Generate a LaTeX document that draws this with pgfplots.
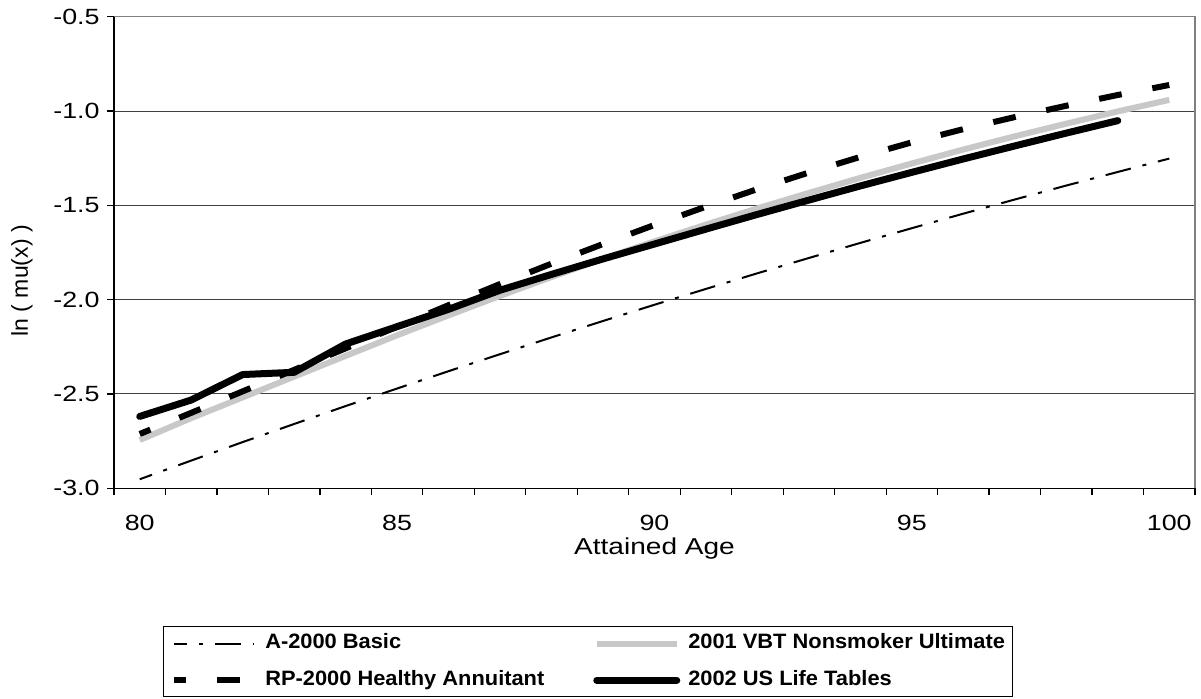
\documentclass[border=0pt]{standalone}
\usepackage{pgfplots}
\pgfplotsset{compat=1.18}
\usepackage{fontspec}
\setmainfont{Liberation Sans}
\newfontfamily\stretchfont[FakeStretch=1.22]{Liberation Sans}
\newfontfamily\legfont[FakeStretch=1.05]{Liberation Sans}
\definecolor{vbtgray}{RGB}{200,200,200}
\definecolor{gridgray}{RGB}{64,64,64}
\begin{document}
\begin{tikzpicture}
\useasboundingbox (0pt,0pt) rectangle (600.5pt,349pt);
\begin{axis}[
  at={(57pt,104.85pt)}, anchor=south west,
  scale only axis, width=540.5pt, height=235.8pt,
  xmin=79.5, xmax=100.5, ymin=-3, ymax=-0.5,
  axis x line*=bottom, axis y line*=left,
  axis line style={black, line width=0.75pt},
  tick align=outside, major tick length=3.5pt,
  tick style={black, line width=0.6pt},
  xtick={79.5,80.5,81.5,82.5,83.5,84.5,85.5,86.5,87.5,88.5,89.5,90.5,91.5,92.5,93.5,94.5,95.5,96.5,97.5,98.5,99.5,100.5},
  xticklabels={},
  extra x ticks={80,85,90,95,100},
  extra x tick labels={80,85,90,95,100},
  extra x tick style={major tick length=0pt, xticklabel style={inner sep=0pt, anchor=north, yshift=-13pt}},
  ytick={-3,-2.5,-2,-1.5,-1,-0.5},
  /pgf/number format/fixed,
  /pgf/number format/fixed zerofill,
  /pgf/number format/precision=1,
  /pgf/number format/assume math mode=true,
  yticklabel style={inner sep=0pt, anchor=east, xshift=-3.5pt},
  tick label style={font=\stretchfont\fontsize{11}{13}\selectfont},
  ymajorgrids, major grid style={gridgray, line width=0.5pt},
  xlabel={\stretchfont\fontsize{11.5}{13}\selectfont Attained Age},
  ylabel={\fontsize{11.5}{13}\selectfont ln ( mu(x) )},
  every axis x label/.style={at={(axis description cs:0.5,-0.1285)}, anchor=center},
  every axis y label/.style={at={(axis description cs:-0.0851,0.44)}, anchor=center, rotate=90},
  legend columns=2,
  legend cell align=left,
  legend style={at={(axis description cs:0.0453,-0.2926)}, anchor=north west,
    draw=black, line width=0.6pt, fill=white,
    font=\legfont\bfseries\fontsize{10.4}{12}\selectfont,
    inner xsep=3.85pt, inner ysep=3.35pt, row sep=8.3pt,
    nodes={inner sep=0pt, text height=7.5pt, text depth=2.5pt},
    /tikz/column 1/.style={column sep=4pt},
    /tikz/column 2/.style={column sep=0pt},
    /tikz/column 3/.style={column sep=4pt}},
  legend image code/.code={\draw[#1] (0pt,0pt) -- (40pt,0pt);},
  after end axis/.code={\draw[gray, line width=0.75pt] (rel axis cs:0,1) -- (rel axis cs:1,1) -- (rel axis cs:1,0);},
  clip=false,
]
% A-2000 Basic
\addplot[black, line width=1pt, dash pattern=on 13pt off 6pt on 2pt off 6pt, dash phase=6.5pt] coordinates {
(80,-2.952) (81,-2.853) (82,-2.755) (83,-2.659) (84,-2.564) (85,-2.471) (86,-2.379) (87,-2.289) (88,-2.200) (89,-2.113) (90,-2.027) (91,-1.943) (92,-1.860) (93,-1.779) (94,-1.699) (95,-1.621) (96,-1.544) (97,-1.469) (98,-1.395) (99,-1.323) (100,-1.252)};
\addlegendentry{\makebox[164pt][l]{A-2000 Basic}}
% 2001 VBT Nonsmoker Ultimate
\addplot[vbtgray, line width=3pt, line join=round] coordinates {
(80,-2.744) (81,-2.628) (82,-2.518) (83,-2.408) (84,-2.298) (85,-2.189) (86,-2.083) (87,-1.980) (88,-1.880) (89,-1.783) (90,-1.691) (91,-1.602) (92,-1.516) (93,-1.434) (94,-1.354) (95,-1.278) (96,-1.204) (97,-1.134) (98,-1.067) (99,-1.002) (100,-0.941)};
\addlegendentry{2001 VBT Nonsmoker Ultimate}
% RP-2000 Healthy Annuitant
\addplot[black, line width=3pt, dash pattern=on 11.5pt off 15.6pt, dash phase=5.75pt] coordinates {
(80,-2.712) (81,-2.600) (82,-2.486) (83,-2.372) (84,-2.258) (85,-2.143) (86,-2.029) (87,-1.917) (88,-1.809) (89,-1.705) (90,-1.604) (91,-1.507) (92,-1.414) (93,-1.326) (94,-1.243) (95,-1.166) (96,-1.096) (97,-1.032) (98,-0.972) (99,-0.915) (100,-0.862)};
\addlegendentry{\makebox[164pt][l]{RP-2000 Healthy Annuitant}}
% 2002 US Life Tables
\addplot[black, line width=3.5pt, line cap=round, line join=round] coordinates {
(80,-2.619) (81,-2.532) (82,-2.397) (83,-2.385) (84,-2.235) (85,-2.143) (86,-2.051) (87,-1.950) (88,-1.866) (89,-1.784) (90,-1.705) (91,-1.626) (92,-1.548) (93,-1.472) (94,-1.397) (95,-1.325) (96,-1.254) (97,-1.185) (98,-1.117) (99,-1.051)};
\addlegendentry{2002 US Life Tables}
\end{axis}
\end{tikzpicture}
\end{document}
